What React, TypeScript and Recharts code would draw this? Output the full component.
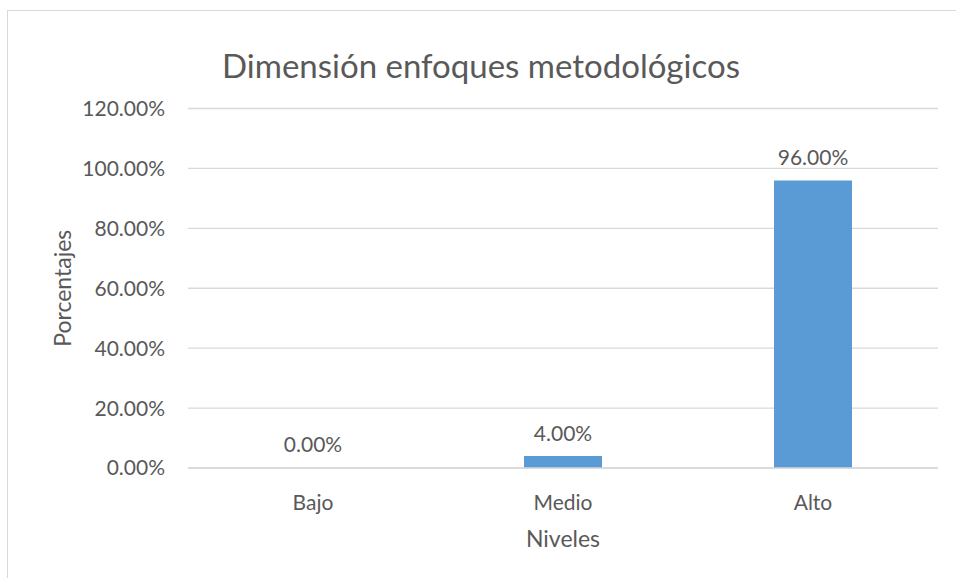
import { BarChart, Bar, XAxis, YAxis, CartesianGrid, LabelList, Rectangle } from 'recharts';

const categories = ['Bajo', 'Medio', 'Alto'];
const percentages = [0, 4, 96];
const yTicks = [0, 20, 40, 60, 80, 100, 120];

const data = categories.map((label, i) => ({ label, value: percentages[i] }));

const FONT = 'Lato, "Open Sans", sans-serif';
const TEXT = '#595959';

const fmt = (v: number) => `${Number(v).toFixed(2)}%`;

const YTitle = ({ viewBox }: any) => {
  const x = viewBox.x + 54;
  const y = viewBox.y + viewBox.height / 2;
  return (
    <text x={x} y={y} transform={`rotate(-90, ${x}, ${y})`} textAnchor="middle"
      dominantBaseline="central" fill={TEXT} fontSize={23} fontFamily={FONT}>
      Porcentajes
    </text>
  );
};

const XTitle = ({ viewBox }: any) => {
  const x = viewBox.x + viewBox.width / 2;
  return (
    <text x={x} y={527} textAnchor="middle" dominantBaseline="central"
      fill={TEXT} fontSize={23} fontFamily={FONT}>
      Niveles
    </text>
  );
};

// zero bars get a 1px minPointSize so their label still shows; the bar itself is skipped
const BarShape = (props: any) =>
  props.payload && props.payload.value > 0 ? <Rectangle {...props} /> : <g />;

const ValueLabel = (props: any) => {
  const { x, y, width, height, value } = props;
  const top = Math.min(Number(y), Number(y) + Number(height));
  return (
    <text x={Number(x) + Number(width) / 2} y={top - 24} textAnchor="middle"
      dominantBaseline="central" fill={TEXT} fontSize={21} fontFamily={FONT}>
      {fmt(value)}
    </text>
  );
};

export default function App() {
  return (
    <div style={{
      position: 'absolute', left: 7, top: 10, width: 948, height: 567,
      borderLeft: '1px solid #d9d9d9', borderTop: '1px solid #d9d9d9', background: '#fff',
    }}>
      <div style={{
        position: 'absolute', left: 0, top: 43 - 11, width: 946, textAlign: 'center',
        fontFamily: FONT, fontSize: 33, color: TEXT, lineHeight: '44px',
      }}>
        Dimensión enfoques metodológicos
      </div>
      <BarChart width={948} height={567} data={data}
        margin={{ top: 97.5, right: 18, left: 0, bottom: 40 }}>
        <CartesianGrid vertical={false} stroke="#d9d9d9" strokeWidth={1.3} />
        <XAxis dataKey="label" axisLine={{ stroke: '#d9d9d9', strokeWidth: 1.3 }} tickLine={false}
          height={70} tickMargin={21}
          tick={{ fill: TEXT, fontSize: 21, fontFamily: FONT }}
          label={{ content: <XTitle /> }} />
        <YAxis domain={[0, 120]} ticks={yTicks} width={180} axisLine={false} tickLine={false}
          tickSize={0} tickMargin={23} tickFormatter={fmt}
          tick={{ fill: TEXT, fontSize: 21, fontFamily: FONT }}
          label={{ content: <YTitle /> }} />
        <Bar dataKey="value" fill="#5b9bd5" barSize={78} minPointSize={1}
          shape={<BarShape />} isAnimationActive={false}>
          <LabelList dataKey="value" content={<ValueLabel />} />
        </Bar>
      </BarChart>
    </div>
  );
}
